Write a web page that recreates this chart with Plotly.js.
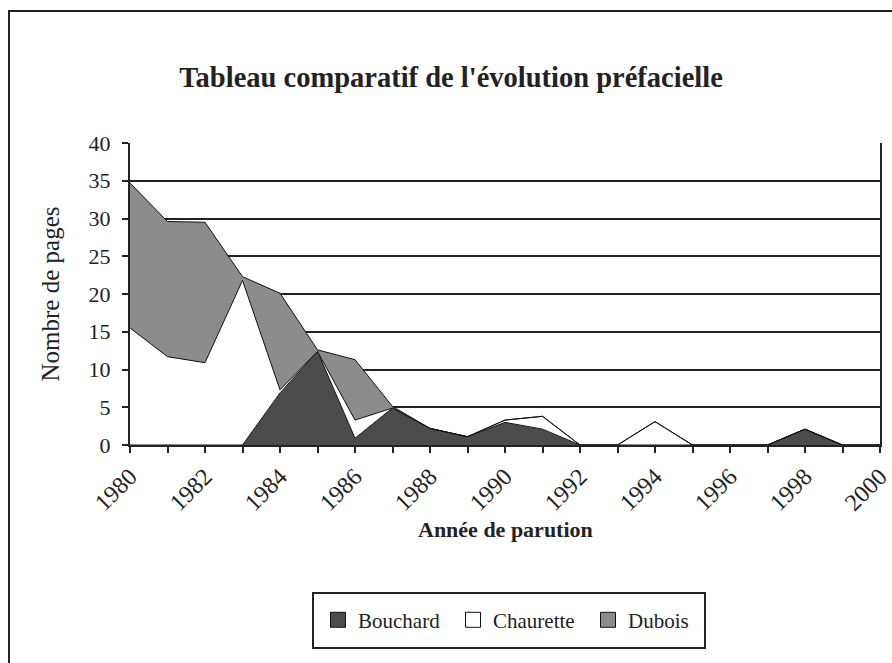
<!DOCTYPE html>
<html>
<head>
<meta charset="utf-8">
<script src="https://cdn.plot.ly/plotly-3.0.1.min.js"></script>
<style>
  html, body { margin: 0; padding: 0; background: #fff; }
  #wrap { position: relative; width: 892px; height: 663px; }
  #chart { width: 892px; height: 663px; }
  #frame { position: absolute; left: 8px; top: 10px; width: 884px; height: 653px;
           border-left: 2px solid #222; border-top: 2px solid #222; pointer-events: none; box-sizing: border-box; }
</style>
</head>
<body>
<div id="wrap">
  <div id="chart"></div>
  <div id="frame"></div>
</div>
<script>
const years = [1980,1981,1982,1983,1984,1985,1986,1987,1988,1989,1990,1991,1992,1993,1994,1995,1996,1997,1998,1999,2000];
const bouchard  = [0,0,0,0,6.9,12.4,0.9,4.9,2.2,1.1,3.0,2.1,0,0,0,0,0,0,2.1,0,0];
const chaurette = [15.5,11.7,10.9,21.8,0.4,0,2.4,0,0,0,0.3,1.7,0,0,3.1,0,0,0,0,0,0];
const dubois    = [19.2,17.9,18.6,0.5,12.8,0.2,8.0,0.2,0,0,0,0,0,0,0,0,0,0,0,0,0];
const seriesNames = ['Bouchard','Chaurette','Dubois'];
const fills = ['#4b4b4b','#ffffff','#8c8c8c'];
const serif = 'Liberation Serif';

const areaTraces = [bouchard, chaurette, dubois].map((vals, i) => ({
  x: years, y: vals, name: seriesNames[i], type: 'scatter', mode: 'lines',
  stackgroup: 'one', fillcolor: fills[i], showlegend: false,
  line: {color: '#111', width: 1}, hoverinfo: 'x+y+name'
}));
const legendTraces = seriesNames.map((n, i) => ({
  x: [null], y: [null], name: n, type: 'scatter', mode: 'markers',
  marker: {symbol: 'square', size: 15, color: fills[i], line: {color: '#111', width: 1}},
  showlegend: true
}));

const layout = {
  width: 892, height: 663,
  margin: {l: 130, r: 12, t: 143, b: 218},
  paper_bgcolor: '#fff', plot_bgcolor: '#fff',
  showlegend: true,
  title: {text: "Tableau comparatif de l'évolution préfacielle",
          font: {family: serif, size: 28.5, color: '#222', weight: 'bold'},
          x: 451/892, xanchor: 'center', y: 1 - 77/663, yanchor: 'middle'},
  xaxis: {
    range: [1980, 2000], dtick: 2, tick0: 1980,
    tickangle: -45, ticks: 'outside', ticklen: 6, tickwidth: 2, tickcolor: '#222',
    ticklabelshift: 0, ticklabelstandoff: 0, ticklabeloverflow: 'allow',
    minor: {dtick: 1, ticklen: 6, tickwidth: 2, tickcolor: '#222', showgrid: false},
    showline: true, linecolor: '#222', linewidth: 2,
    showgrid: false, zeroline: false,
    tickfont: {family: serif, size: 24, color: '#222'}
  },
  yaxis: {
    range: [0, 40], dtick: 5, tick0: 0,
    ticks: 'outside', ticklen: 6, tickwidth: 2, tickcolor: '#222',
    ticklabelstandoff: 7,
    showline: true, linecolor: '#222', linewidth: 2, mirror: true,
    showgrid: true, gridcolor: '#222', gridwidth: 2, zeroline: false,
    tickfont: {family: serif, size: 22, color: '#222'},
    title: {text: 'Nombre de pages', font: {family: serif, size: 25, color: '#222'}, standoff: 22}
  },
  annotations: [{
    text: 'Année de parution', xref: 'paper', yref: 'paper',
    x: 0.5, y: (445-529)/302, xanchor: 'center', yanchor: 'middle', showarrow: false,
    font: {family: serif, size: 22, color: '#222', weight: 'bold'}
  }],
  legend: {
    orientation: 'h', x: (318-130)/750, xanchor: 'left', y: -0.58, yanchor: 'middle',
    borderwidth: 0, bgcolor: 'rgba(0,0,0,0)',
    font: {family: serif, size: 21, color: '#222'},
    traceorder: 'normal', itemwidth: 30, entrywidth: 90, entrywidthmode: 'pixels'
  },
  shapes: [{
    type: 'rect', xref: 'paper', yref: 'paper',
    x0: (313-130)/750, x1: (705-130)/750, y0: (445-648)/302, y1: (445-593)/302,
    line: {color: '#222', width: 2}, fillcolor: 'rgba(0,0,0,0)', layer: 'above'
  }]
};

Plotly.newPlot('chart', areaTraces.concat(legendTraces), layout, {displayModeBar: false, staticPlot: true});
</script>
</body>
</html>
